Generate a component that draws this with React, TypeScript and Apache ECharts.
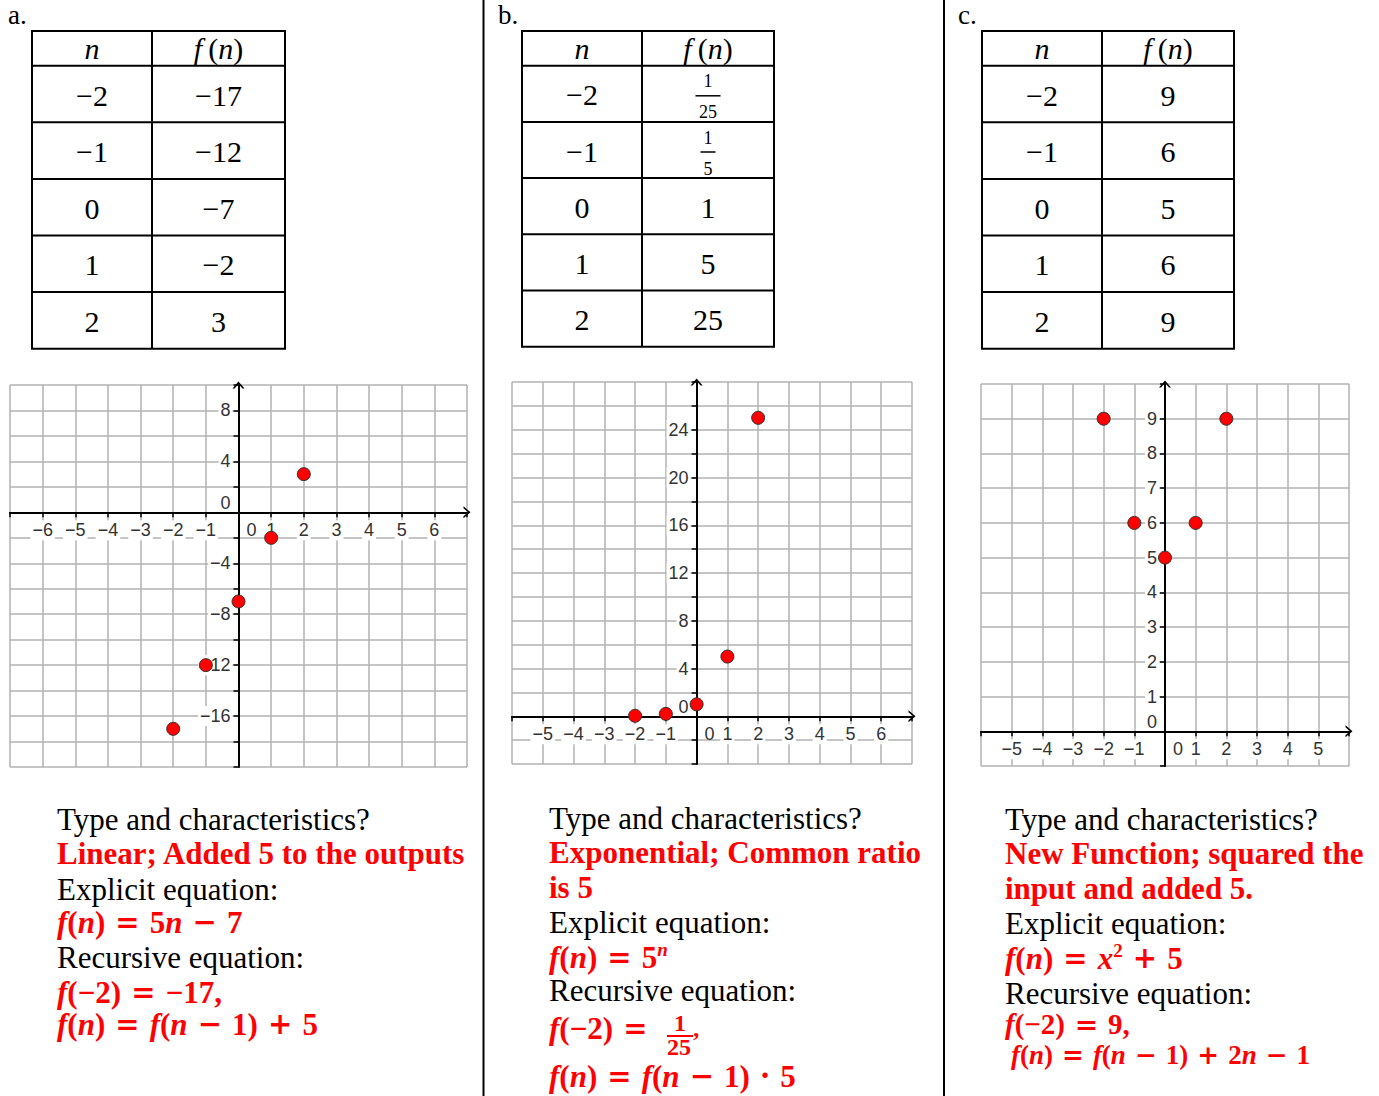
import React, { useEffect, useRef } from 'react';
import * as echarts from 'echarts';

// ---------------- data ----------------
const nValues = [-2, -1, 0, 1, 2];
const fA = [-17, -12, -7, -2, 3];
const fB = [1 / 25, 1 / 5, 1, 5, 25];
const fBText = ['1/25', '1/5', '1', '5', '25'];
const fC = [9, 6, 5, 6, 9];

const xRangeA = [-7, 7];
const yRangeA = [-20, 10];
const xRangeB = [-6, 7];
const yRangeB = [-4, 28];
const xRangeC = [-6, 6];
const yRangeC = [-1, 10];

const xTickLabelsA = [-6, -5, -4, -3, -2, -1, 1, 2, 3, 4, 5, 6];
const yTickLabelsA = [-16, -12, -8, -4, 4, 8];
const xTickLabelsB = [-5, -4, -3, -2, -1, 1, 2, 3, 4, 5, 6];
const yTickLabelsB = [4, 8, 12, 16, 20, 24];
const xTickLabelsC = [-5, -4, -3, -2, -1, 1, 2, 3, 4, 5];
const yTickLabelsC = [1, 2, 3, 4, 5, 6, 7, 8, 9];

const sectionLabels = ['a.', 'b.', 'c.'];
const promptType = 'Type and characteristics?';
const promptExplicit = 'Explicit equation:';
const promptRecursive = 'Recursive equation:';
const answerTypeA = ['Linear; Added 5 to the outputs'];
const answerTypeB = ['Exponential; Common ratio', 'is 5'];
const answerTypeC = ['New Function; squared the', 'input and added 5.'];

// ---------------- style ----------------
const MINUS = '\u2212';
const fmt = (v: number) => (v < 0 ? MINUS + Math.abs(v) : String(v));
const RED = '#ff0000';
const SERIF = 'Liberation Serif';
const SANS = 'Liberation Sans';
const GRID_COLOR = '#b2b2b2';
const LABEL_COLOR = '#333';
const ARROW = 'path://M0,7L6,0L12,7L10,7L6,2.4L2,7Z';
const FS = 31;
const AXIS_FS = 18;

const PANELS = [
  { grid: { left: 10, top: 385, width: 457, height: 382 }, xRange: xRangeA, yRange: yRangeA, yStep: 2, xLabels: xTickLabelsA, yLabels: yTickLabelsA, values: fA },
  { grid: { left: 512, top: 382, width: 400, height: 382 }, xRange: xRangeB, yRange: yRangeB, yStep: 2, xLabels: xTickLabelsB, yLabels: yTickLabelsB, values: fB },
  { grid: { left: 981, top: 384, width: 368, height: 382 }, xRange: xRangeC, yRange: yRangeC, yStep: 1, xLabels: xTickLabelsC, yLabels: yTickLabelsC, values: fC },
];

const TABLES = [
  { x0: 32, xm: 152, x1: 285, top: 31, head: 65.7, rowH: 56.6, cells: fA.map(fmt) },
  { x0: 522, xm: 642, x1: 774, top: 31, head: 65.7, rowH: 56.2, cells: fBText },
  { x0: 982, xm: 1102, x1: 1234, top: 31, head: 65.7, rowH: 56.6, cells: fC.map(fmt) },
];

const SECTION_POS = [[8, 15], [498, 15], [958, 15]];

const labelRich = {
  l: { fontFamily: SANS, fontSize: AXIS_FS, color: LABEL_COLOR, backgroundColor: '#fff', padding: [1, 2] },
};

function makeMathRich(fs: number): any {
  const base = { fontFamily: SERIF, fontSize: fs, fontWeight: 'bold', fill: RED, lineHeight: fs + 3 };
  return {
    b: { ...base },
    i: { ...base, fontStyle: 'italic' },
    o: { ...base, fontFamily: 'DejaVu Serif', fontSize: Math.round(fs * 0.95) },
    s: { ...base, fontSize: Math.round(fs * 0.62), fontStyle: 'italic', lineHeight: fs - 6, verticalAlign: 'top' },
    s2: { ...base, fontSize: Math.round(fs * 0.6), lineHeight: fs - 8, verticalAlign: 'top' },
  };
}
const OPS = (o: string) => `{o|\u00a0${o}\u00a0}`;

function txt(x: number, y: number, text: string, extra: any = {}) {
  return {
    type: 'text', x, y, silent: true, z: 1,
    style: { text, fontFamily: SERIF, fontSize: FS, fill: '#000', align: 'left', verticalAlign: 'middle', ...extra },
  };
}
function ln(x1: number, y1: number, x2: number, y2: number, stroke = '#000', w = 2) {
  return { type: 'line', silent: true, z: 1, shape: { x1, y1, x2, y2 }, style: { stroke, lineWidth: w } };
}
function mathTxt(x: number, y: number, rich: string, fs = FS) {
  return txt(x, y, rich, { rich: makeMathRich(fs), fill: RED, fontWeight: 'bold', fontSize: fs });
}

function tableEls(t: any) {
  const els: any[] = [];
  const bottom = t.head + t.rowH * nValues.length;
  const ys = [t.top, t.head];
  nValues.forEach((_, k) => ys.push(t.head + t.rowH * (k + 1)));
  ys.forEach((y) => els.push(ln(t.x0 - 1, y, t.x1 + 1, y)));
  [t.x0, t.xm, t.x1].forEach((x) => els.push(ln(x, t.top, x, bottom)));
  const c1 = (t.x0 + t.xm) / 2;
  const c2 = (t.xm + t.x1) / 2;
  const hy = (t.top + t.head) / 2;
  els.push(txt(c1, hy, 'n', { align: 'center', fontStyle: 'italic', fontSize: 30 }));
  els.push(txt(c2, hy, '{i|f}\u2009({i|n})', { align: 'center', fontSize: 30, rich: { i: { fontFamily: SERIF, fontSize: 30, fontStyle: 'italic', fill: '#000' } } }));
  nValues.forEach((n, k) => {
    const cy = t.head + t.rowH * (k + 0.5);
    els.push(txt(c1, cy + 1, fmt(n), { align: 'center', fontSize: 30 }));
    const cell: string = t.cells[k];
    if (cell.includes('/')) {
      const [num, den] = cell.split('/');
      const w = den.length * 10 + 5;
      els.push(txt(c2, cy - 12.5, num, { align: 'center', fontSize: 18 }));
      els.push(ln(c2 - w / 2, cy + 2, c2 + w / 2, cy + 2, '#000', 1.5));
      els.push(txt(c2, cy + 18.5, den, { align: 'center', fontSize: 18 }));
    } else {
      els.push(txt(c2, cy + 1, cell, { align: 'center', fontSize: 30 }));
    }
  });
  return els;
}

function textEls() {
  const els: any[] = [];
  const red = { fontWeight: 'bold', fill: RED };
  // column a
  const xa = 57;
  els.push(txt(xa, 819, promptType));
  answerTypeA.forEach((s, k) => els.push(txt(xa, 853 + k * 34, s, red)));
  els.push(txt(xa, 889, promptExplicit));
  els.push(mathTxt(xa, 922, `{i|f}{b|(}{i|n}{b|)}${OPS('=')}{b|5}{i|n}${OPS(MINUS)}{b|7}`));
  els.push(txt(xa, 957, promptRecursive));
  els.push(mathTxt(xa, 992, `{i|f}{b|(${MINUS}2)}${OPS('=')}{b|${fmt(fA[0])},}`));
  els.push(mathTxt(xa, 1024, `{i|f}{b|(}{i|n}{b|)}${OPS('=')}{i|f}{b|(}{i|n}${OPS(MINUS)}{b|1)}${OPS('+')}{b|5}`));

  // column b
  const xb = 549;
  els.push(txt(xb, 818, promptType));
  answerTypeB.forEach((s, k) => els.push(txt(xb, 852 + k * 35, s, red)));
  els.push(txt(xb, 922, promptExplicit));
  els.push(mathTxt(xb, 957, `{i|f}{b|(}{i|n}{b|)}${OPS('=')}{b|5}{s|n}`));
  els.push(txt(xb, 990, promptRecursive));
  els.push(mathTxt(xb, 1028, `{i|f}{b|(${MINUS}2)}${OPS('=')}`));
  const [num, den] = fBText[0].split('/');
  els.push(txt(680, 1023, num, { align: 'center', fontSize: 24, ...red }));
  els.push(ln(667, 1036, 693, 1036, RED, 2));
  els.push(txt(679, 1047, den, { align: 'center', fontSize: 24, ...red }));
  els.push(txt(692, 1040, '\u2019', { fontSize: 24, ...red }));
  els.push(mathTxt(xb, 1076, `{i|f}{b|(}{i|n}{b|)}${OPS('=')}{i|f}{b|(}{i|n}${OPS(MINUS)}{b|1)}${OPS('\u00b7')}{b|5}`));

  // column c
  const xc = 1005;
  els.push(txt(xc, 819, promptType));
  answerTypeC.forEach((s, k) => els.push(txt(xc, 853 + k * 35, s, red)));
  els.push(txt(xc, 923, promptExplicit));
  els.push(mathTxt(xc, 958, `{i|f}{b|(}{i|n}{b|)}${OPS('=')}{i|x}{s2|2}${OPS('+')}{b|5}`));
  els.push(txt(xc, 993, promptRecursive));
  els.push(mathTxt(xc, 1024, `{i|f}{b|(${MINUS}2)}${OPS('=')}{b|${fmt(fC[0])},}`, 29));
  els.push(mathTxt(xc + 6, 1055, `{i|f}{b|(}{i|n}{b|)}${OPS('=')}{i|f}{b|(}{i|n}${OPS(MINUS)}{b|1)}${OPS('+')}{b|2}{i|n}${OPS(MINUS)}{b|1}`, 27));
  return els;
}

function staticGraphics() {
  const els: any[] = [];
  els.push(ln(483.5, 0, 483.5, 1096));
  els.push(ln(944, 0, 944, 1096));
  sectionLabels.forEach((s, k) => els.push(txt(SECTION_POS[k][0], SECTION_POS[k][1], s, { fontSize: 27 })));
  TABLES.forEach((t) => els.push(...tableEls(t)));
  els.push(...textEls());
  return els;
}

function buildOption() {
  const grid: any[] = [];
  const xAxis: any[] = [];
  const yAxis: any[] = [];
  const series: any[] = [];
  PANELS.forEach((p, i) => {
    grid.push({ ...p.grid, containLabel: false, outerBoundsMode: 'none' });
    // offsets that put the axes through the origin (labels and ticks move with them)
    const xOff = -((0 - p.yRange[0]) / (p.yRange[1] - p.yRange[0])) * p.grid.height;
    const yOff = -((0 - p.xRange[0]) / (p.xRange[1] - p.xRange[0])) * p.grid.width;
    xAxis.push({
      gridIndex: i, type: 'value', min: p.xRange[0], max: p.xRange[1], interval: 1, position: 'bottom', offset: xOff, z: 3,
      axisLine: { show: true, onZero: false, lineStyle: { color: '#000', width: 2 }, symbol: ['none', ARROW], symbolSize: [12, 7] },
      axisTick: { show: true, length: 5, lineStyle: { color: '#000', width: 1.5 } },
      axisLabel: { show: true, margin: 8, formatter: (v: number) => (p.xLabels.includes(v) ? `{l|${fmt(v)}}` : ''), rich: labelRich },
      splitLine: { show: false },
    });
    xAxis.push({
      gridIndex: i, type: 'value', min: p.xRange[0], max: p.xRange[1], interval: 1, position: 'top', z: 0,
      axisLine: { show: false, onZero: false }, axisTick: { show: false }, axisLabel: { show: false },
      splitLine: { show: true, lineStyle: { color: GRID_COLOR, width: 1.5 } },
    });
    yAxis.push({
      gridIndex: i, type: 'value', min: p.yRange[0], max: p.yRange[1], interval: p.yStep, position: 'left', offset: yOff, z: 3,
      axisLine: { show: true, onZero: false, lineStyle: { color: '#000', width: 2 }, symbol: ['none', ARROW], symbolSize: [12, 7] },
      axisTick: { show: true, length: 5, lineStyle: { color: '#000', width: 1.5 } },
      axisLabel: { show: true, margin: 6, formatter: (v: number) => (p.yLabels.includes(v) ? `{l|${fmt(v)}}` : ''), rich: labelRich },
      splitLine: { show: false },
    });
    yAxis.push({
      gridIndex: i, type: 'value', min: p.yRange[0], max: p.yRange[1], interval: p.yStep, position: 'right', z: 0,
      axisLine: { show: false, onZero: false }, axisTick: { show: false }, axisLabel: { show: false },
      splitLine: { show: true, lineStyle: { color: GRID_COLOR, width: 1.5 } },
    });
    series.push({
      type: 'scatter', xAxisIndex: 2 * i, yAxisIndex: 2 * i, z: 5, silent: true,
      symbol: 'circle', symbolSize: 13,
      itemStyle: { color: RED, borderColor: '#333', borderWidth: 1, opacity: 1 },
      data: nValues.map((n, k) => [n, p.values[k]]),
    });
  });
  return { animation: false, backgroundColor: '#fff', grid, xAxis, yAxis, series, tooltip: { show: false } };
}

export default function App() {
  const ref = useRef<HTMLDivElement>(null);
  useEffect(() => {
    const chart = echarts.init(ref.current!, null, { renderer: 'svg' });
    chart.setOption(buildOption());
    const zeros: any[] = [];
    PANELS.forEach((_, i) => {
      const o = chart.convertToPixel({ seriesIndex: i }, [0, 0]) as number[];
      const st = { fontFamily: SANS, fontSize: AXIS_FS, fill: LABEL_COLOR, verticalAlign: 'middle' };
      zeros.push({ type: 'text', silent: true, z: 4, x: o[0] + 13, y: o[1] + 18, style: { ...st, text: '0', align: 'center' } });
      zeros.push({ type: 'text', silent: true, z: 4, x: o[0] - 8, y: o[1] - 9, style: { ...st, text: '0', align: 'right' } });
    });
    chart.setOption({ graphic: [...staticGraphics(), ...zeros] });
    return () => chart.dispose();
  }, []);
  return <div ref={ref} style={{ position: 'absolute', left: 0, top: 0, width: 1379, height: 1096 }} />;
}
